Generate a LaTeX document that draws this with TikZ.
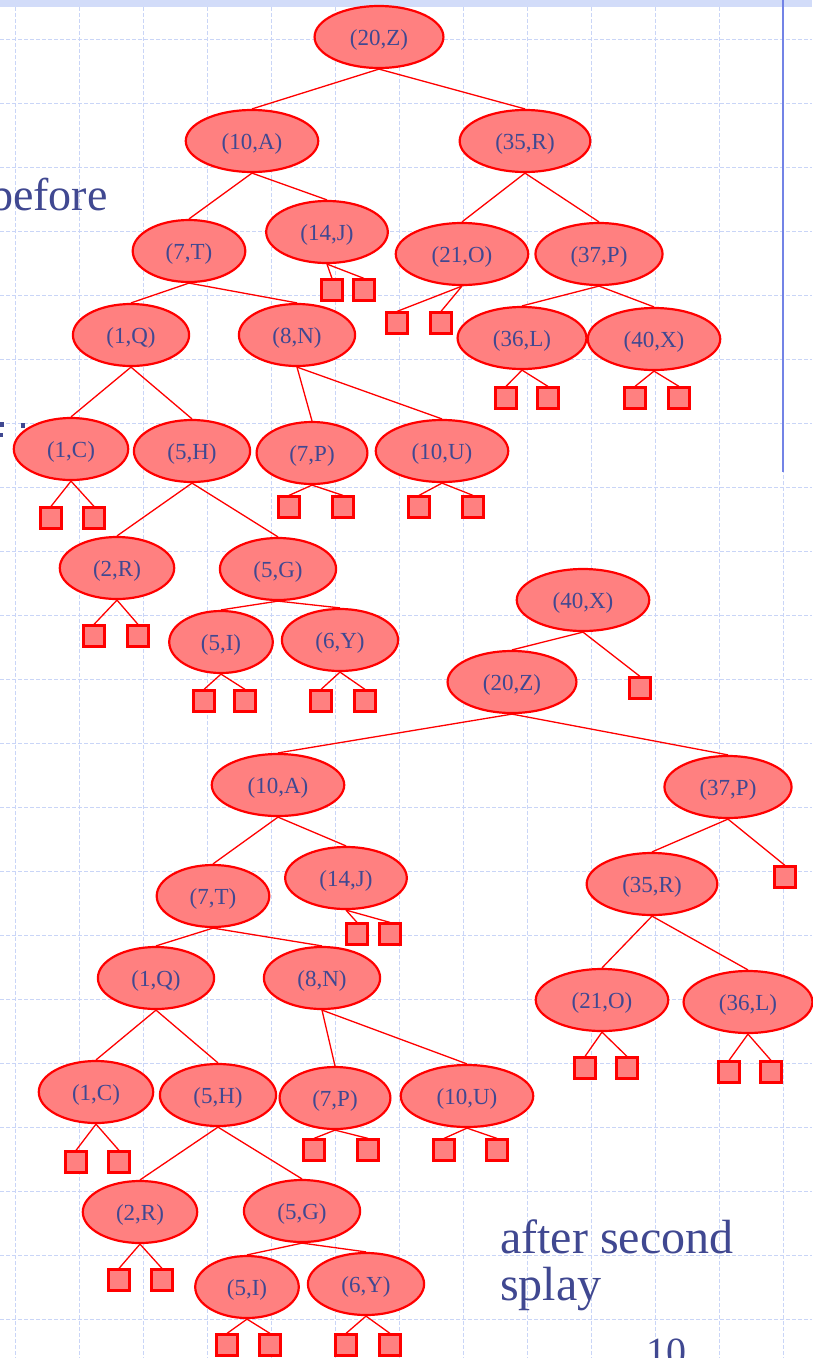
\documentclass[tikz,border=0pt]{standalone}
\usepackage{fontspec}
\setmainfont{Liberation Serif}
\usetikzlibrary{shapes.geometric}
\definecolor{nodefill}{HTML}{FF8080}
\definecolor{nodeline}{HTML}{FF0000}
\definecolor{txtblue}{RGB}{64,72,145}
\definecolor{gridc}{HTML}{C9D5F7}
\definecolor{bandc}{HTML}{D2DCF9}
\definecolor{rulec}{HTML}{7383E6}
\begin{document}
\begin{tikzpicture}[x=1pt,y=-1pt,
 kv/.style={ellipse,draw=nodeline,fill=nodefill,line width=2.2pt,text=txtblue,
   font=\fontsize{23}{26}\selectfont,inner xsep=16.5pt,inner ysep=4pt,
   text height=19pt,text depth=2pt,minimum height=62pt},
 lf/.style={rectangle,draw=nodeline,fill=nodefill,line width=2.2pt,minimum size=21pt,inner sep=0pt},
 edge/.style={draw=nodeline,line width=1.3pt},
 gridln/.style={draw=gridc,line width=0.8pt,dash pattern=on 4pt off 2pt},
 bigtxt/.style={text=txtblue,font=\fontsize{46}{48}\selectfont,inner sep=0pt,anchor=base west}]
\useasboundingbox (0,0) rectangle (812,1358);
\fill[white] (0,0) rectangle (812,1358);
% background grid
\foreach \k in {0,...,20} {\draw[gridln] (0,39+64*\k) -- (812,39+64*\k);}
\foreach \k in {0,...,12} {\draw[gridln] (15+64*\k,7) -- (15+64*\k,1358);}
\fill[bandc] (0,0) rectangle (812,7);
\draw[rulec,line width=1.6pt] (783,0) -- (783,472);
% side texts
\node[bigtxt] (tbefore) at (-10,210) {before};
\fill[txtblue] (0,422) rectangle (4,427);
\fill[txtblue] (0,433) rectangle (3,437);
\fill[txtblue] (21,423) rectangle (25,428);
\node[bigtxt,font=\fontsize{48}{48}\selectfont] (tafter1) at (500,1253) {after second};
\node[bigtxt,font=\fontsize{48}{48}\selectfont] (tafter2) at (500,1300) {splay};
\node[bigtxt,font=\fontsize{40}{42}\selectfont] (tpage) at (646,1365) {10};

% ---------------- top tree ----------------
\node[kv] (Z1) at (379,37) {(20,Z)};
\node[kv] (A1) at (252,141) {(10,A)};
\node[kv] (R1) at (525,141) {(35,R)};
\node[kv] (T1) at (189,251) {(7,T)};
\node[kv] (J1) at (327,232) {(14,J)};
\node[kv] (O1) at (462,254) {(21,O)};
\node[kv] (P1) at (599,254) {(37,P)};
\node[kv] (Q1) at (131,335) {(1,Q)};
\node[kv] (N1) at (297,335) {(8,N)};
\node[kv] (L1) at (522,338) {(36,L)};
\node[kv] (X1) at (654,339) {(40,X)};
\node[kv] (C1) at (71,449) {(1,C)};
\node[kv] (H1) at (192,451) {(5,H)};
\node[kv] (V1) at (312,453) {(7,P)};
\node[kv] (U1) at (442,451) {(10,U)};
\node[kv] (B1) at (117,568) {(2,R)};
\node[kv] (G1) at (278,569) {(5,G)};
\node[kv] (I1) at (221,642) {(5,I)};
\node[kv] (Y1) at (340,640) {(6,Y)};

\node[lf] (J1a) at (332,290) {}; \node[lf] (J1b) at (364,290) {};
\node[lf] (O1a) at (397,323) {}; \node[lf] (O1b) at (441,323) {};
\node[lf] (L1a) at (506,398) {}; \node[lf] (L1b) at (548,398) {};
\node[lf] (X1a) at (635,398) {}; \node[lf] (X1b) at (679,398) {};
\node[lf] (C1a) at (51,518) {};  \node[lf] (C1b) at (94,518) {};
\node[lf] (V1a) at (289,507) {}; \node[lf] (V1b) at (343,507) {};
\node[lf] (U1a) at (419,507) {}; \node[lf] (U1b) at (473,507) {};
\node[lf] (B1a) at (94,636) {};  \node[lf] (B1b) at (138,636) {};
\node[lf] (I1a) at (204,701) {}; \node[lf] (I1b) at (245,701) {};
\node[lf] (Y1a) at (321,701) {}; \node[lf] (Y1b) at (365,701) {};

\foreach \p/\c in {Z1/A1,Z1/R1,A1/T1,A1/J1,R1/O1,R1/P1,T1/Q1,T1/N1,P1/L1,P1/X1,
  Q1/C1,Q1/H1,N1/V1,N1/U1,H1/B1,H1/G1,G1/I1,G1/Y1,
  J1/J1a,J1/J1b,O1/O1a,O1/O1b,L1/L1a,L1/L1b,X1/X1a,X1/X1b,C1/C1a,C1/C1b,
  V1/V1a,V1/V1b,U1/U1a,U1/U1b,B1/B1a,B1/B1b,I1/I1a,I1/I1b,Y1/Y1a,Y1/Y1b}
  {\draw[edge] (\p.south) -- (\c.north);}

% ---------------- bottom tree ----------------
\node[kv] (X2) at (583,600) {(40,X)};
\node[kv] (Z2) at (512,682) {(20,Z)};
\node[kv] (A2) at (278,785) {(10,A)};
\node[kv] (P2) at (728,787) {(37,P)};
\node[kv] (T2) at (213,896) {(7,T)};
\node[kv] (J2) at (346,878) {(14,J)};
\node[kv] (R2) at (652,884) {(35,R)};
\node[kv] (Q2) at (156,978) {(1,Q)};
\node[kv] (N2) at (322,978) {(8,N)};
\node[kv] (O2) at (602,1000) {(21,O)};
\node[kv] (L2) at (748,1002) {(36,L)};
\node[kv] (C2) at (96,1092) {(1,C)};
\node[kv] (H2) at (218,1095) {(5,H)};
\node[kv] (V2) at (335,1098) {(7,P)};
\node[kv] (U2) at (467,1096) {(10,U)};
\node[kv] (B2) at (140,1212) {(2,R)};
\node[kv] (G2) at (302,1211) {(5,G)};
\node[kv] (I2) at (247,1287) {(5,I)};
\node[kv] (Y2) at (366,1284) {(6,Y)};

\node[lf] (X2b) at (640,688) {};
\node[lf] (P2b) at (785,877) {};
\node[lf] (J2a) at (357,934) {}; \node[lf] (J2b) at (390,934) {};
\node[lf] (O2a) at (585,1068) {}; \node[lf] (O2b) at (627,1068) {};
\node[lf] (L2a) at (729,1072) {}; \node[lf] (L2b) at (771,1072) {};
\node[lf] (C2a) at (76,1162) {};  \node[lf] (C2b) at (119,1162) {};
\node[lf] (V2a) at (314,1150) {}; \node[lf] (V2b) at (368,1150) {};
\node[lf] (U2a) at (444,1150) {}; \node[lf] (U2b) at (497,1150) {};
\node[lf] (B2a) at (119,1280) {}; \node[lf] (B2b) at (162,1280) {};
\node[lf] (I2a) at (227,1345) {}; \node[lf] (I2b) at (270,1345) {};
\node[lf] (Y2a) at (346,1345) {}; \node[lf] (Y2b) at (390,1345) {};

\foreach \p/\c in {X2/Z2,X2/X2b,Z2/A2,Z2/P2,A2/T2,A2/J2,P2/R2,P2/P2b,T2/Q2,T2/N2,
  R2/O2,R2/L2,Q2/C2,Q2/H2,N2/V2,N2/U2,H2/B2,H2/G2,G2/I2,G2/Y2,
  J2/J2a,J2/J2b,O2/O2a,O2/O2b,L2/L2a,L2/L2b,C2/C2a,C2/C2b,V2/V2a,V2/V2b,
  U2/U2a,U2/U2b,B2/B2a,B2/B2b,I2/I2a,I2/I2b,Y2/Y2a,Y2/Y2b}
  {\draw[edge] (\p.south) -- (\c.north);}
\end{tikzpicture}
\end{document}
